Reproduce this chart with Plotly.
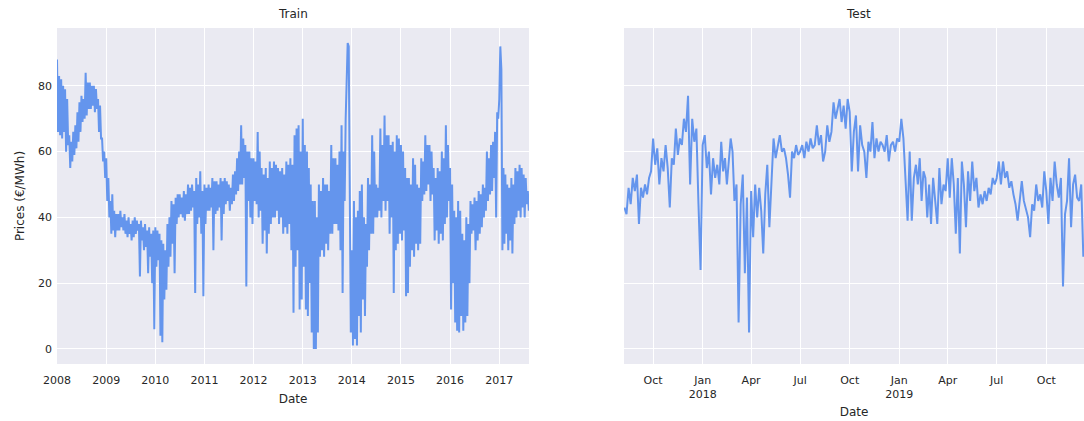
import calendar
import pandas as pd
import plotly.graph_objects as go

# daily prices, ~weekly for train (4 per month)
train_values = {
    2008: [88, 66, 83, 65, 82, 64, 80, 66, 79, 60, 76, 62, 65, 55, 63, 57,
           66, 59, 68, 61, 72, 63, 75, 66, 77, 69, 76, 70, 84, 71, 81, 73,
           81, 73, 80, 74, 80, 72, 79, 73, 76, 66, 74, 64, 64, 57, 60, 52],
    2009: [58, 45, 52, 40, 45, 35, 47, 36, 42, 34, 41, 36, 41, 36, 42, 37,
           40, 36, 41, 35, 39, 34, 40, 35, 38, 33, 39, 34, 40, 35, 39, 36,
           38, 22, 39, 33, 37, 30, 38, 31, 36, 23, 37, 28, 35, 20, 36, 6],
    2010: [37, 25, 36, 27, 35, 4, 33, 2, 32, 15, 30, 18, 38, 25, 40, 28,
           45, 32, 44, 23, 46, 38, 47, 40, 47, 41, 46, 40, 48, 39, 47, 41,
           50, 41, 49, 42, 50, 43, 48, 17, 52, 38, 50, 40, 54, 35, 48, 16],
    2011: [50, 38, 49, 42, 50, 42, 49, 43, 52, 30, 51, 41, 51, 42, 50, 43,
           52, 33, 51, 41, 52, 44, 51, 45, 50, 42, 49, 44, 53, 45, 54, 47,
           58, 48, 60, 50, 68, 50, 64, 52, 62, 19, 60, 45, 60, 40, 58, 38],
    2012: [58, 45, 57, 44, 66, 40, 60, 42, 55, 32, 53, 36, 55, 29, 52, 35,
           57, 38, 55, 40, 57, 40, 56, 42, 55, 38, 54, 40, 55, 35, 53, 37,
           57, 35, 56, 38, 58, 30, 56, 11, 65, 25, 67, 30, 68, 12, 60, 15],
    2013: [70, 25, 62, 12, 60, 10, 55, 20, 50, 5, 45, 0, 45, 0, 40, 5,
           50, 28, 48, 30, 52, 28, 50, 32, 50, 30, 48, 35, 62, 35, 58, 38,
           58, 38, 56, 36, 60, 30, 68, 17, 60, 45, 70, 85, 93, 92, 60, 5],
    2014: [30, 1, 45, 3, 40, 1, 42, 10, 48, 5, 50, 15, 40, 10, 38, 25,
           52, 30, 50, 35, 65, 35, 60, 40, 50, 40, 49, 42, 67, 40, 62, 45,
           71, 42, 65, 45, 65, 35, 62, 40, 63, 17, 60, 30, 65, 32, 64, 35],
    2015: [62, 33, 60, 36, 55, 16, 52, 17, 52, 25, 50, 30, 58, 28, 56, 32,
           50, 30, 49, 32, 58, 45, 57, 47, 65, 48, 62, 50, 62, 45, 60, 47,
           55, 33, 52, 36, 55, 32, 54, 35, 60, 33, 58, 38, 68, 40, 62, 45],
    2016: [55, 12, 50, 20, 42, 8, 40, 5.5, 45, 5, 42, 10, 35, 5.5, 33, 8,
           40, 10, 38, 20, 45, 35, 44, 36, 46, 30, 45, 33, 48, 35, 47, 37,
           50, 40, 49, 42, 60, 45, 58, 47, 62, 48, 63, 52, 66, 40, 72, 70],
    2017: [76, 92, 85, 30, 55, 32, 53, 35, 50, 30, 49, 33, 52, 29, 50, 38,
           55, 40, 54, 42, 56, 40, 55, 43, 53, 40, 52, 44, 48, 42],
}

# test period, ~two points a week (8 per month)
test_values = {
    (2017, 8): [43, 41, 49, 44, 52, 48],
    (2017, 9): [53, 38, 49, 46, 50, 47, 52, 54],
    (2017, 10): [64, 56, 61, 50, 58, 54, 62, 55],
    (2017, 11): [43, 58, 56, 67, 59, 64, 62, 70],
    (2017, 12): [66, 77, 50, 70, 63, 67, 44, 24],
    (2018, 1): [62, 65, 55, 60, 47, 58, 52, 56],
    (2018, 2): [50, 63, 54, 58, 50, 56, 64, 60],
    (2018, 3): [45, 50, 8, 44, 53, 23, 46, 5],
    (2018, 4): [48, 34, 50, 40, 49, 42, 29, 47],
    (2018, 5): [56, 37, 52, 64, 58, 62, 65, 60],
    (2018, 6): [61, 58, 53, 46, 60, 58, 62, 59],
    (2018, 7): [60, 62, 58, 63, 60, 64, 61, 62],
    (2018, 8): [68, 62, 65, 57, 60, 68, 63, 66],
    (2018, 9): [75, 70, 73, 76, 69, 74, 67, 76],
    (2018, 10): [72, 54, 66, 71, 54, 68, 62, 60],
    (2018, 11): [52, 63, 60, 69, 58, 64, 60, 63],
    (2018, 12): [62, 60, 65, 57, 62, 63, 60, 64],
    (2019, 1): [63, 70, 64, 51, 39, 60, 39, 52],
    (2019, 2): [56, 50, 58, 45, 54, 52, 40, 50],
    (2019, 3): [38, 52, 46, 38, 55, 44, 50, 48],
    (2019, 4): [58, 46, 58, 50, 35, 52, 29, 57],
    (2019, 5): [50, 37, 54, 45, 57, 48, 52, 43],
    (2019, 6): [47, 44, 48, 45, 49, 47, 52, 50],
    (2019, 7): [52, 57, 50, 57, 52, 54, 49, 51],
    (2019, 8): [47, 44, 39, 46, 51, 45, 42, 40],
    (2019, 9): [34, 44, 42, 50, 45, 47, 43, 54],
    (2019, 10): [48, 38, 52, 45, 57, 50, 46, 52],
    (2019, 11): [19, 41, 45, 58, 37, 50, 53, 46],
    (2019, 12): [45, 50, 28],
}

train_range = ["2008-01-01", "2017-08-10"]
test_range = ["2017-08-08", "2019-12-10"]
test_tickvals = ["2017-10-01", "2018-01-01", "2018-04-01", "2018-07-01", "2018-10-01",
                 "2019-01-01", "2019-04-01", "2019-07-01", "2019-10-01"]
test_ticktext = ["Oct", "Jan<br>2018", "Apr", "Jul", "Oct", "Jan<br>2019", "Apr", "Jul", "Oct"]
train_tickvals = [f"{y}-01-01" for y in range(2008, 2018)]
train_ticktext = [str(y) for y in range(2008, 2018)]


def month_points(year, month, vals, per_month, right_align=False):
    days = calendar.monthrange(year, month)[1]
    start = pd.Timestamp(year, month, 1)
    slots = list(range(per_month))
    if right_align:
        slots = slots[per_month - len(vals):]
    return [start + pd.Timedelta(days=days * s / per_month) for s in slots], list(vals)


tx, ty = [], []
for year, vals in train_values.items():
    for m in range(12):
        chunk = vals[m * 4:(m + 1) * 4]
        if not chunk:
            break
        d, v = month_points(year, m + 1, chunk, 4)
        tx += d
        ty += v

sx, sy = [], []
for i, ((year, month), vals) in enumerate(test_values.items()):
    d, v = month_points(year, month, vals, 8, right_align=(i == 0))
    sx += d
    sy += v

line_color = "#6495ED"
grid_bg = "#EAEAF2"
txt = "#262626"
font = "DejaVu Sans"

fig = go.Figure()
fig.add_trace(go.Scatter(x=tx, y=ty, mode="lines", line=dict(color=line_color, width=2),
                         xaxis="x", yaxis="y", showlegend=False))
fig.add_trace(go.Scatter(x=sx, y=sy, mode="lines", line=dict(color=line_color, width=2),
                         xaxis="x2", yaxis="y2", showlegend=False))

axis_common = dict(showgrid=True, gridcolor="white", gridwidth=1, zeroline=False,
                   showline=False, ticks="", tickfont=dict(family=font, size=11, color=txt))

fig.update_layout(
    width=1084, height=421,
    margin=dict(l=57, r=0, t=28, b=57),
    paper_bgcolor="white", plot_bgcolor=grid_bg,
    font=dict(family=font, color=txt),
    xaxis=dict(domain=[0, 0.4596], type="date", range=train_range,
               tickvals=train_tickvals, ticktext=train_ticktext, ticklabelstandoff=8,
               title=dict(text="Date", font=dict(size=12, color=txt), standoff=8), **axis_common),
    yaxis=dict(domain=[0, 1], range=[-4.6, 97.6], tickvals=[0, 20, 40, 60, 80],
               ticklabelstandoff=4,
               title=dict(text="Prices (€/MWh)", font=dict(size=12, color=txt), standoff=10),
               **axis_common),
    xaxis2=dict(domain=[0.5521, 1], type="date", range=test_range, anchor="y2",
                tickvals=test_tickvals, ticktext=test_ticktext, ticklabelstandoff=8,
                title=dict(text="Date", font=dict(size=12, color=txt), standoff=7), **axis_common),
    yaxis2=dict(domain=[0, 1], range=[-4.6, 97.6], tickvals=[0, 20, 40, 60, 80],
                anchor="x2", showticklabels=False, **axis_common),
    annotations=[
        dict(text="Train", xref="x domain", yref="paper", x=0.5, y=1, yanchor="bottom",
             yshift=5, showarrow=False, font=dict(family=font, size=12, color=txt)),
        dict(text="Test", xref="x2 domain", yref="paper", x=0.5, y=1, yanchor="bottom",
             yshift=5, xshift=4, showarrow=False, font=dict(family=font, size=12, color=txt)),
    ],
)

# drop the default 8px body margin so the figure fills the window
fig.write_html("out.html", config={"displayModeBar": False},
               post_script="document.body.style.margin='0';")
